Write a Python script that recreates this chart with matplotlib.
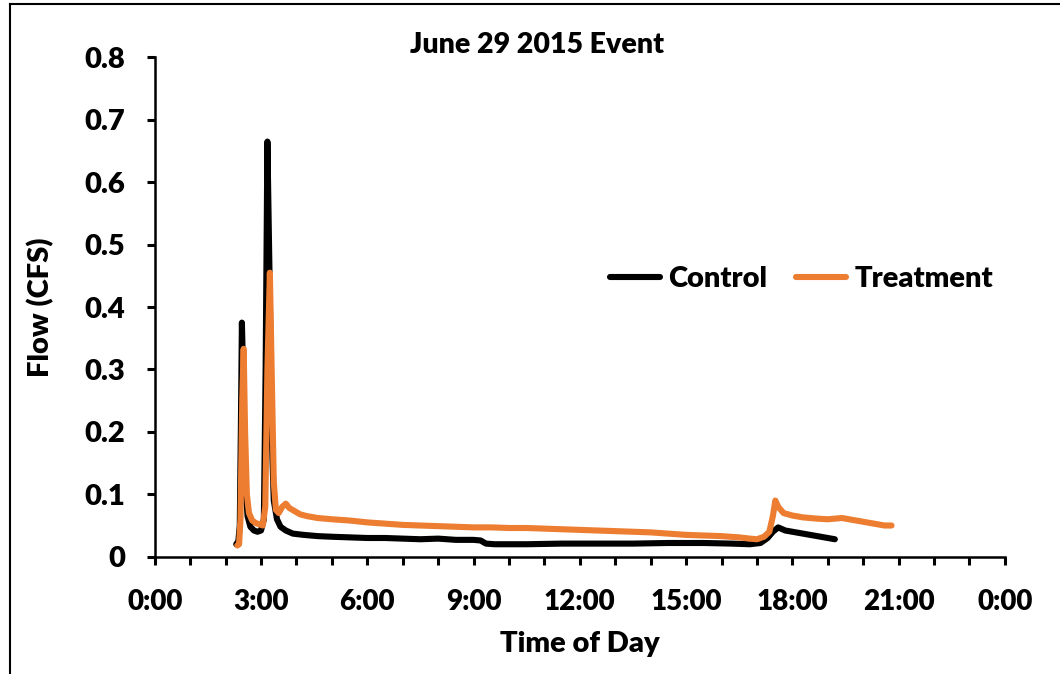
import matplotlib
matplotlib.use("Agg")
import matplotlib.pyplot as plt
from matplotlib.lines import Line2D

# hours since midnight, flow in CFS
control_t = [2.30, 2.36, 2.40, 2.43, 2.46, 2.50, 2.55, 2.62, 2.70, 2.80, 2.90, 3.00, 3.08,
             3.13, 3.18, 3.24, 3.30, 3.36, 3.45, 3.55, 3.70, 3.90, 4.2, 4.6, 5.0, 5.5, 6.0,
             6.5, 7.0, 7.5, 8.0, 8.5, 9.0, 9.2, 9.35, 9.6, 10.5, 11.5, 12.5, 13.5, 14.5,
             15.5, 16.3, 16.8, 17.1, 17.3, 17.45, 17.6, 17.8, 18.2, 18.6, 19.0, 19.2]
control_q = [0.020, 0.025, 0.050, 0.200, 0.375, 0.280, 0.120, 0.065, 0.048, 0.042, 0.040,
             0.042, 0.060, 0.300, 0.665, 0.450, 0.200, 0.090, 0.060, 0.048, 0.042, 0.037,
             0.035, 0.033, 0.032, 0.031, 0.030, 0.030, 0.029, 0.028, 0.029, 0.027, 0.027,
             0.026, 0.021, 0.020, 0.020, 0.021, 0.021, 0.021, 0.022, 0.022, 0.021, 0.020,
             0.022, 0.030, 0.040, 0.047, 0.042, 0.038, 0.034, 0.030, 0.028]

treat_t = [2.33, 2.38, 2.42, 2.47, 2.51, 2.55, 2.60, 2.66, 2.75, 2.85, 2.95, 3.05, 3.12,
           3.18, 3.25, 3.30, 3.36, 3.42, 3.50, 3.60, 3.70, 3.80, 3.95, 4.1, 4.3, 4.6, 5.0,
           5.5, 6.0, 6.5, 7.0, 7.5, 8.0, 8.5, 9.0, 9.5, 10.0, 10.5, 11.0, 11.5, 12.0, 12.5,
           13.0, 13.5, 14.0, 14.5, 15.0, 15.5, 16.0, 16.5, 16.8, 17.0, 17.2, 17.35, 17.45,
           17.52, 17.6, 17.75, 18.0, 18.3, 18.7, 19.0, 19.4, 19.7, 20.0, 20.3, 20.6, 20.8]
treat_q = [0.018, 0.020, 0.060, 0.250, 0.333, 0.200, 0.100, 0.070, 0.058, 0.054, 0.052,
           0.050, 0.080, 0.300, 0.455, 0.300, 0.120, 0.075, 0.070, 0.080, 0.085, 0.078,
           0.073, 0.068, 0.065, 0.062, 0.060, 0.058, 0.055, 0.053, 0.051, 0.050, 0.049,
           0.048, 0.047, 0.047, 0.046, 0.046, 0.045, 0.044, 0.043, 0.042, 0.041, 0.040,
           0.039, 0.037, 0.035, 0.034, 0.033, 0.031, 0.029, 0.028, 0.032, 0.040, 0.065,
           0.090, 0.080, 0.070, 0.066, 0.063, 0.061, 0.060, 0.062, 0.059, 0.056, 0.053,
           0.050, 0.050]

x_ticks = [0, 3, 6, 9, 12, 15, 18, 21, 24]
x_labels = ["0:00", "3:00", "6:00", "9:00", "12:00", "15:00", "18:00", "21:00", "0:00"]
y_ticks = [0, 0.1, 0.2, 0.3, 0.4, 0.5, 0.6, 0.7, 0.8]
y_labels = ["0", "0.1", "0.2", "0.3", "0.4", "0.5", "0.6", "0.7", "0.8"]

plt.rcParams['font.family'] = ['Lato', 'DejaVu Sans']
plt.rcParams['font.weight'] = 'heavy'

fig = plt.figure(figsize=(10.6, 6.74), dpi=100)
ax = fig.add_axes([0.146, 0.174, 0.802, 0.741])

orange = '#ED7D31'
ax.plot(control_t, control_q, color='black', lw=4.4, solid_capstyle='round', label='Control')
ax.plot(treat_t, treat_q, color=orange, lw=4.4, solid_capstyle='round', label='Treatment')

ax.set_xlim(0, 24)
ax.set_ylim(0, 0.8)
ax.set_xticks(x_ticks)
ax.set_xticklabels(x_labels)
ax.set_xticks(range(0, 25), minor=True)
ax.set_yticks(y_ticks)
ax.set_yticklabels(y_labels)

for s in ['top', 'right']:
    ax.spines[s].set_visible(False)
for s in ['left', 'bottom']:
    ax.spines[s].set_linewidth(1.8)

ax.tick_params(axis='both', which='both', direction='out', length=6, width=2.2,
               labelsize=20)
ax.tick_params(axis='x', pad=17)
ax.tick_params(axis='y', pad=15, labelsize=21)

ax.set_xlabel('Time of Day', fontsize=21, fontweight='heavy', labelpad=12)
ax.set_ylabel('Flow (CFS)', fontsize=21, fontweight='heavy', labelpad=22)

fig.text(0.507, 0.933, 'June 29 2015 Event', ha='center', va='center',
         fontsize=20.5, fontweight='heavy')

ax.legend(loc='center', bbox_to_anchor=(0.761, 0.556), ncol=2, frameon=False,
          fontsize=21, handlelength=1.7, handletextpad=0.3, columnspacing=1.0)

# outer border of the chart area
fig.add_artist(Line2D([0.009, 0.009], [0, 0.994], transform=fig.transFigure,
                      color='black', lw=1.5))
fig.add_artist(Line2D([0.009, 1.0], [0.994, 0.994], transform=fig.transFigure,
                      color='black', lw=1.5))

fig.savefig('out.png', dpi=100)
